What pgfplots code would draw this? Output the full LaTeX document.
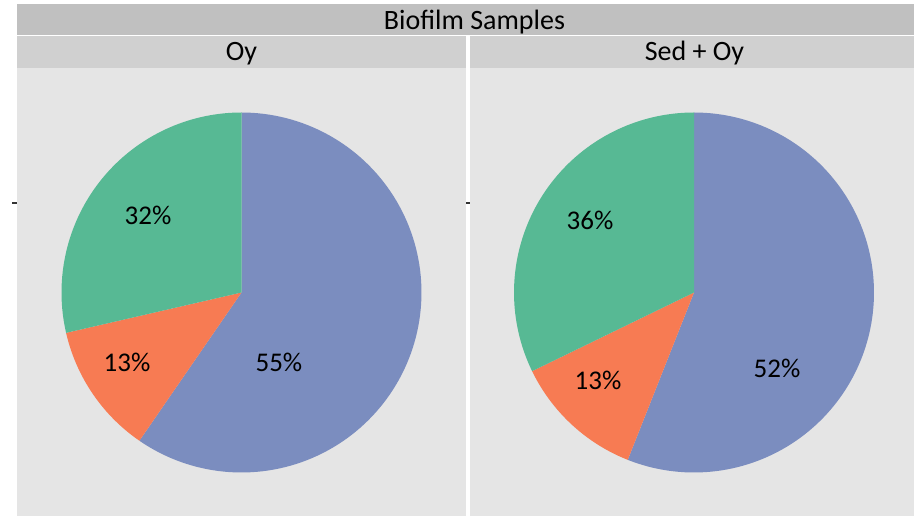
\documentclass[border=0pt]{standalone}
\usepackage{pgfplots}
\pgfplotsset{compat=1.18}
\usepackage{fontspec}
\setmainfont{Carlito}
\definecolor{bandtop}{RGB}{192,192,192}
\definecolor{bandstrip}{RGB}{208,208,208}
\definecolor{panelbg}{RGB}{229,229,229}
\definecolor{pieblue}{RGB}{123,141,191}
\definecolor{pieorange}{RGB}{247,123,83}
\definecolor{piegreen}{RGB}{87,185,148}
% slice shares (percent of the circle) as drawn: blue, orange, green
\def\LA{59.6}\def\LB{11.8}\def\LC{28.6}
\def\RA{56.0}\def\RB{11.8}\def\RC{32.2}
\pgfplotsset{pieaxis/.style={hide axis, scale only axis, width=432pt, height=432pt,
  xmin=-1.2, xmax=1.2, ymin=-1.2, ymax=1.2, anchor=center}}
\begin{document}
\begin{tikzpicture}
\path[use as bounding box] (0pt,0pt) rectangle (914pt,516pt);
% panels
\fill[panelbg] (17pt,0pt) rectangle (466pt,448pt);
\fill[panelbg] (470pt,0pt) rectangle (914pt,448pt);
\fill[bandstrip] (17pt,448pt) rectangle (466pt,480pt);
\fill[bandstrip] (470pt,448pt) rectangle (914pt,480pt);
\fill[bandtop] (17pt,480.5pt) rectangle (914pt,512pt);
\draw[gray!40!black, line width=1.2pt] (12pt,313pt) -- (17pt,313pt);
\draw[gray!40!black, line width=1.2pt] (466pt,313pt) -- (470pt,313pt);
\node[anchor=base, font=\fontsize{28}{32}\selectfont] at (474.5pt,486pt) {Biofilm Samples};
\node[anchor=base, font=\fontsize{28}{32}\selectfont] at (241.5pt,455pt) {Oy};
\node[anchor=base, font=\fontsize{28}{32}\selectfont] at (694.5pt,455pt) {Sed + Oy};
% left pie
\pgfmathsetmacro{\aA}{90-3.6*\LA}
\pgfmathsetmacro{\aB}{\aA-3.6*\LB}
\pgfmathsetmacro{\aC}{\aB-3.6*\LC}
\begin{axis}[pieaxis, at={(241.5pt,223.5pt)}]
\addplot[fill=pieblue, draw=none, domain=\aA:90, samples=120] ({cos(x)},{sin(x)}) -- (0,0) -- cycle;
\addplot[fill=pieorange, draw=none, domain=\aB:\aA, samples=40] ({cos(x)},{sin(x)}) -- (0,0) -- cycle;
\addplot[fill=piegreen, draw=none, domain=\aC:\aB, samples=80] ({cos(x)},{sin(x)}) -- (0,0) -- cycle;
\node[font=\fontsize{27}{30}\selectfont] at (axis cs:-0.519,0.431) {32\%};
\node[font=\fontsize{27}{30}\selectfont] at (axis cs:-0.636,-0.386) {13\%};
\node[font=\fontsize{27}{30}\selectfont] at (axis cs:0.208,-0.386) {55\%};
\end{axis}
% right pie
\pgfmathsetmacro{\bA}{90-3.6*\RA}
\pgfmathsetmacro{\bB}{\bA-3.6*\RB}
\pgfmathsetmacro{\bC}{\bB-3.6*\RC}
\begin{axis}[pieaxis, at={(694pt,223.5pt)}]
\addplot[fill=pieblue, draw=none, domain=\bA:90, samples=120] ({cos(x)},{sin(x)}) -- (0,0) -- cycle;
\addplot[fill=pieorange, draw=none, domain=\bB:\bA, samples=40] ({cos(x)},{sin(x)}) -- (0,0) -- cycle;
\addplot[fill=piegreen, draw=none, domain=\bC:\bB, samples=80] ({cos(x)},{sin(x)}) -- (0,0) -- cycle;
\node[font=\fontsize{27}{30}\selectfont] at (axis cs:-0.578,0.403) {36\%};
\node[font=\fontsize{27}{30}\selectfont] at (axis cs:-0.533,-0.486) {13\%};
\node[font=\fontsize{27}{30}\selectfont] at (axis cs:0.461,-0.419) {52\%};
\end{axis}
\end{tikzpicture}
\end{document}
